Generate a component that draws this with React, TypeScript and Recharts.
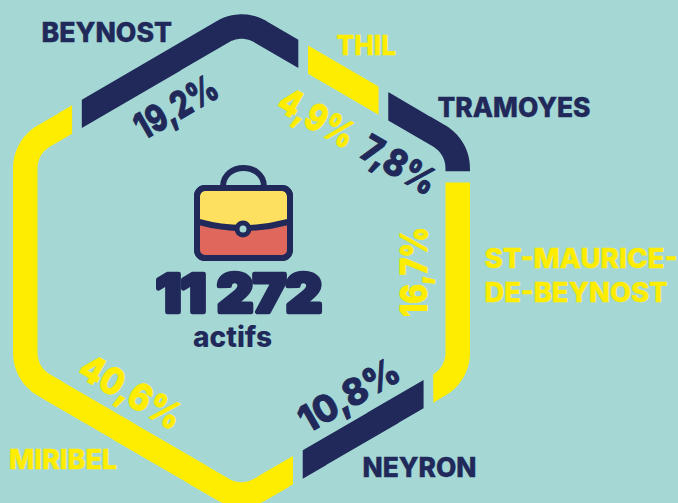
import React from "react";
import { PieChart, Pie } from "recharts";

// Data
const towns = ["BEYNOST", "THIL", "TRAMOYES", "ST-MAURICE-DE-BEYNOST", "NEYRON", "MIRIBEL"];
const shareLabels = ["19,2%", "4,9%", "7,8%", "16,7%", "10,8%", "40,6%"];
// Share of the hexagon's perimeter each band really covers in the picture
const bandShares = [17.2, 5.6, 7.2, 15.1, 9.6, 40.6];
const totalValue = "11 272";
const totalUnit = "actifs";

// Styles and layout
const NAVY = "#20295a";
const YELLOW = "#ffed00";
const BG = "#a5d8d4";
const bandColors = [NAVY, YELLOW, NAVY, YELLOW, NAVY, YELLOW];
const FONT = "Inter, 'Open Sans', sans-serif";

const APOTHEM = 216.25;
const HALF_SIDE = 113.7;
const APEX = 239.7;
const RADIUS = 37;
const BAND = 24.5;

const verts = [
  [0, -APEX], [APOTHEM, -HALF_SIDE], [APOTHEM, HALF_SIDE],
  [0, APEX], [-APOTHEM, HALF_SIDE], [-APOTHEM, -HALF_SIDE],
];
const sides = verts.map((v, i) => {
  const w = verts[(i + 1) % 6];
  const len = Math.hypot(w[0] - v[0], w[1] - v[1]);
  return { len, dx: (w[0] - v[0]) / len, dy: (w[1] - v[1]) / len };
});
const PERIM = sides.reduce((a, b) => a + b.len, 0);
const TRIM = RADIUS * Math.tan(Math.PI / 6);

function onHex(sRaw: number) {
  let s = ((sRaw % PERIM) + PERIM) % PERIM;
  let i = 0;
  while (s > sides[i].len && i < 5) { s -= sides[i].len; i++; }
  const side = sides[i];
  let vi = -1, off = 0;
  if (s < TRIM) { vi = i; off = s; }
  else if (side.len - s < TRIM) { vi = (i + 1) % 6; off = s - side.len; }
  if (vi < 0) {
    const v = verts[i];
    return { x: v[0] + side.dx * s, y: v[1] + side.dy * s, tx: side.dx, ty: side.dy, nx: side.dy, ny: -side.dx };
  }
  const prev = sides[(vi + 5) % 6];
  const V = verts[vi];
  const ex = V[0] - prev.dx * TRIM, ey = V[1] - prev.dy * TRIM;
  const cx = ex - prev.dy * RADIUS, cy = ey + prev.dx * RADIUS;
  const th = ((off + TRIM) / (2 * TRIM)) * (Math.PI / 3);
  const tx = prev.dx * Math.cos(th) - prev.dy * Math.sin(th);
  const ty = prev.dx * Math.sin(th) + prev.dy * Math.cos(th);
  const nx = ty, ny = -tx;
  return { x: cx + nx * RADIUS, y: cy + ny * RADIUS, tx, ty, nx, ny };
}

function shear(s: number) {
  const p = onHex(s);
  return Math.abs(p.tx) < 0.01 ? 0 : (-p.nx * (BAND / 2)) / p.tx;
}

const angleToS = (deg: number) => ((90 - deg) / 360) * PERIM;

function HexBand(props: any) {
  const { cx, cy, startAngle, endAngle, fill } = props;
  const s0 = angleToS(startAngle);
  const s1 = angleToS(endAngle);
  const e0 = shear(s0);
  const e1 = shear(s1);
  const pts: string[] = [];
  const run = (from: number, to: number, sign: number) => {
    const n = Math.max(2, Math.ceil(Math.abs(to - from) / 2));
    for (let k = 0; k <= n; k++) {
      const p = onHex(from + ((to - from) * k) / n);
      pts.push(`${(cx + p.x + (sign * p.nx * BAND) / 2).toFixed(2)},${(cy + p.y + (sign * p.ny * BAND) / 2).toFixed(2)}`);
    }
  };
  run(s0 + e0, s1 + e1, 1);
  run(s1 - e1, s0 - e0, -1);
  return <path d={`M${pts.join("L")}Z`} fill={fill} stroke="none" />;
}

// Text placement: [x, baseline y, width] per line
const nameLayout: { lines: string[]; boxes: number[][] }[] = [
  { lines: ["BEYNOST"], boxes: [[41.5, 42, 130.5]] },
  { lines: ["THIL"], boxes: [[336.5, 55, 59.5]] },
  { lines: ["TRAMOYES"], boxes: [[437.5, 117, 153]] },
  { lines: ["ST-MAURICE-", "DE-BEYNOST"], boxes: [[484.5, 268, 193], [484.5, 302, 183]] },
  { lines: ["NEYRON"], boxes: [[362.5, 477, 114]] },
  { lines: ["MIRIBEL"], boxes: [[9, 469, 108]] },
];
// [centre x, centre y, rotation, length]
const shareLayout = [
  [176, 107, -30, 90],
  [317, 118, 30, 82],
  [399, 165, 30, 81],
  [414, 272, -90, 90],
  [349, 395, -30, 110],
  [131, 392, 30, 112],
];

function BandLabel(props: any) {
  const i = props.index;
  const color = bandColors[i];
  const [x, y, rot, len] = shareLayout[i];
  const nm = nameLayout[i];
  return (
    <g style={{ fontFamily: FONT }}>
      {nm.lines.map((ln, k) => (
        <text key={k} x={nm.boxes[k][0]} y={nm.boxes[k][1]} fontSize={27} fontWeight={800} fill={color}
          stroke={color} strokeWidth={0.4} textLength={nm.boxes[k][2]} lengthAdjust="spacingAndGlyphs">{ln}</text>
      ))}
      <text x={x} y={y + 13} transform={`rotate(${rot} ${x} ${y})`} textAnchor="middle" fontSize={37} fontWeight={800}
        fill={color} stroke={color} strokeWidth={1} strokeLinejoin="round" textLength={len} lengthAdjust="spacingAndGlyphs">{shareLabels[i]}</text>
    </g>
  );
}

function Briefcase() {
  return (
    <g stroke={NAVY} strokeWidth={6} strokeLinejoin="round" strokeLinecap="round">
      <path d="M223 186 C224 162 263 162 264 186" fill="none" />
      <rect x={197} y={188} width={93} height={70} rx={8} fill="#fde05f" />
      <path d="M199 222 Q243 234 288 222 L288 250 Q288 255 282 255 L205 255 Q199 255 199 250 Z" fill="#e0675b" stroke="none" />
      <rect x={197} y={188} width={93} height={70} rx={8} fill="none" />
      <path d="M199 222 Q243 234 288 222" fill="none" />
      <circle cx={243} cy={229} r={6} fill={BG} strokeWidth={5} />
    </g>
  );
}

const table = towns.map((town, i) => ({ town, share: bandShares[i], fill: bandColors[i] }));

export default function App() {
  return (
    <div style={{ position: "absolute", left: 0, top: 0, width: 678, height: 503, background: BG, overflow: "hidden" }}>
      <PieChart width={678} height={503} margin={{ top: 0, right: 0, bottom: 0, left: 0 }}>
        <Pie
          data={table}
          dataKey="share"
          nameKey="town"
          cx={241.5}
          cy={260.5}
          innerRadius={200}
          outerRadius={230}
          startAngle={135.7}
          endAngle={-224.3}
          paddingAngle={2.78}
          isAnimationActive={false}
          shape={HexBand}
          inactiveShape={HexBand}
          activeShape={HexBand}
          label={BandLabel}
          labelLine={false}
        />
        <Briefcase />
        <text x={239} y={312} textAnchor="middle" fontFamily={FONT} fontSize={52} fontWeight={900}
          fill={NAVY} stroke={NAVY} strokeWidth={4.5} strokeLinejoin="round" textLength={166} lengthAdjust="spacingAndGlyphs">{totalValue}</text>
        <text x={232.5} y={347} textAnchor="middle" fontFamily={FONT} fontSize={28} fontWeight={800}
          fill={NAVY} textLength={79} lengthAdjust="spacingAndGlyphs">{totalUnit}</text>
      </PieChart>
    </div>
  );
}
